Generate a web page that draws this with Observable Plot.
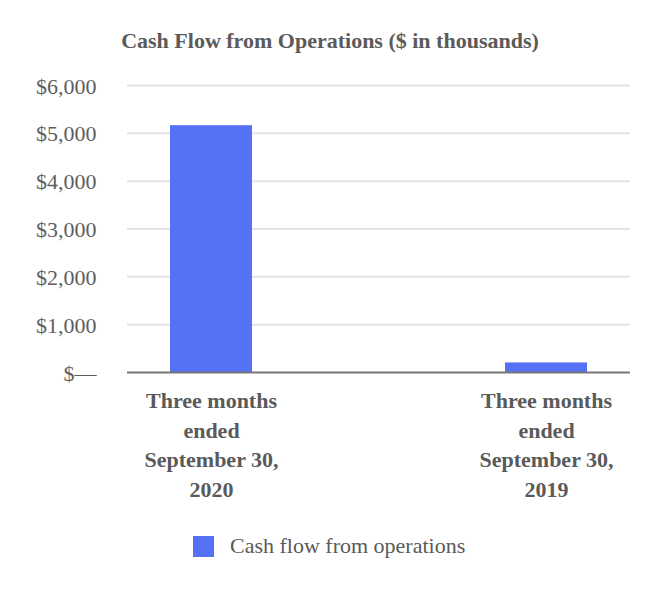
<!DOCTYPE html>
<html>
<head>
<meta charset="utf-8">
<script src="https://cdn.jsdelivr.net/npm/d3@7"></script>
<script src="https://cdn.jsdelivr.net/npm/@observablehq/plot@0.6"></script>
<style>
  body { margin: 0; background: #fff; }
  #wrap { position: relative; width: 660px; height: 600px; font-family: "Liberation Serif", "Times New Roman", serif; }
  #title { position: absolute; left: 0; width: 660px; top: 28px; text-align: center; font-weight: bold; font-size: 22px; color: #5a5a5a; line-height: 1.2; }
  #chart { position: absolute; left: 0; top: 0; }
  #legend { position: absolute; left: 193px; top: 533px; display: flex; align-items: center; font-size: 22px; color: #5a5a5a; }
  #legend .sw { width: 21px; height: 21px; background: #5571f6; margin-right: 16px; }
</style>
</head>
<body>
<div id="wrap">
  <div id="chart"></div>
  <div id="title">Cash Flow from Operations ($ in thousands)</div>
  <div id="legend"><span class="sw"></span><span>Cash flow from operations</span></div>
</div>
<script>
const categories = ["Three months\nended\nSeptember 30,\n2020", "Three months\nended\nSeptember 30,\n2019"];
const values = [5160, 200];
const yTicks = [0, 1000, 2000, 3000, 4000, 5000, 6000];
const seriesName = "Cash flow from operations";

const data = categories.map((c, i) => ({category: c, value: values[i]}));
const fmt = d => d === 0 ? "$\u2014" : "$" + d3.format(",")(d);

const chart = Plot.plot({
  width: 660,
  height: 510,
  marginLeft: 127,
  marginRight: 30,
  marginTop: 85,
  marginBottom: 138,
  style: {fontFamily: "'Liberation Serif', 'Times New Roman', serif", background: "#fff"},
  x: {domain: categories, paddingInner: 0.756, paddingOuter: 0.127, axis: null},
  y: {domain: [0, 6000], axis: null},
  marks: [
    Plot.ruleY(yTicks.filter(d => d > 0), {stroke: "#e4e4e4", strokeWidth: 2}),
    Plot.barY(data, {x: "category", y: "value", fill: "#5571f6"}),
    Plot.ruleY([0], {stroke: "#777", strokeWidth: 2}),
    Plot.text(yTicks, {
      y: d => d, text: fmt, frameAnchor: "left", textAnchor: "end", dx: -31, dy: 1,
      fontSize: 22, fill: "#5e5e5e"
    }),
    Plot.text(data, {
      x: "category", y: 0, text: "category", lineAnchor: "top", dy: 15, lineHeight: 1.34,
      fontSize: 22, fontWeight: "bold", fill: "#5a5a5a"
    })
  ]
});
document.getElementById("chart").appendChild(chart);
</script>
</body>
</html>
